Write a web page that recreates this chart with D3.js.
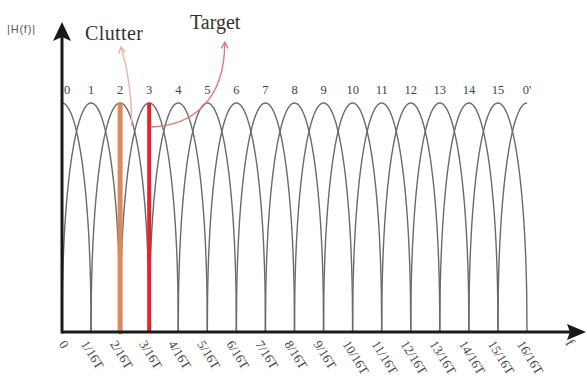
<!DOCTYPE html>
<html>
<head>
<meta charset="utf-8">
<script src="https://cdn.jsdelivr.net/npm/d3@7"></script>
<style>
  html, body { margin: 0; padding: 0; background: #fff; }
  svg { display: block; }
</style>
</head>
<body>
<svg id="chart" width="587" height="390"></svg>
<script>
// Doppler filter bank: 16 bins across one period 1/T, bin 0 repeats as 0'
const binLabels = ["0","1","2","3","4","5","6","7","8","9","10","11","12","13","14","15","0'"];
const binCenters = [0,1,2,3,4,5,6,7,8,9,10,11,12,13,14,15,16];
const tickLabels = ["0","1/16T","2/16T","3/16T","4/16T","5/16T","6/16T","7/16T","8/16T",
                    "9/16T","10/16T","11/16T","12/16T","13/16T","14/16T","15/16T","16/16T"];
// Highlighted returns: bin index and normalised amplitude
const clutter = { name: "Clutter", bin: 2, amp: 1.0 };
const target  = { name: "Target",  bin: 3, amp: 1.0 };

const svg = d3.select("#chart");
const x = d3.scaleLinear().domain([0, 16]).range([62, 527]);
const y = d3.scaleLinear().domain([0, 1]).range([332, 103]);

const serif = "'Liberation Serif', 'DejaVu Serif', serif";

// Filter main lobe: rounded arch spanning the two neighbouring bins
const lobe = u => Math.pow(Math.max(0, 1 - u * u), 0.46);
const uSteps = d3.range(-1, 1.0001, 0.01);
const line = d3.line().x(d => x(d[0])).y(d => y(d[1]));

svg.append("g").selectAll("path")
  .data(binCenters)
  .join("path")
  .attr("d", c => line(uSteps.map(u => [c + u, lobe(u)]).filter(p => p[0] >= 0 && p[0] <= 16)))
  .attr("fill", "none")
  .attr("stroke", "#6a6a6a")
  .attr("stroke-width", 1.4);

// Highlighted clutter / target lines
svg.append("line")
  .attr("x1", x(clutter.bin)).attr("x2", x(clutter.bin))
  .attr("y1", y(0)).attr("y2", y(clutter.amp) + 2)
  .attr("stroke", "#d98b5c").attr("stroke-width", 5).attr("stroke-linecap", "round");
svg.append("line")
  .attr("x1", x(target.bin)).attr("x2", x(target.bin))
  .attr("y1", y(0)).attr("y2", y(target.amp))
  .attr("stroke", "#e3242b").attr("stroke-width", 4);

// Bin numbers above the arches
svg.append("g").selectAll("text")
  .data(binLabels)
  .join("text")
  .attr("x", (d, i) => x(binCenters[i]) + (i === 0 ? 5 : 0))
  .attr("y", 94)
  .attr("text-anchor", "middle")
  .attr("font-family", serif)
  .attr("font-size", 12.5)
  .attr("fill", "#444")
  .text(d => d);

// Frequency axis labels
const xAxis = d3.axisBottom(x)
  .tickValues(binCenters)
  .tickFormat(i => tickLabels[i])
  .tickSize(0);
const gx = svg.append("g").attr("transform", `translate(0,${y(0)})`).call(xAxis);
gx.select(".domain").remove();
gx.selectAll("text")
  .attr("x", 0).attr("y", 0).attr("dy", 0)
  .attr("text-anchor", "start")
  .attr("transform", (d, i) => i === 0 ? "translate(-4,12) rotate(58)" : "translate(-11,12) rotate(58)")
  .attr("font-family", serif)
  .attr("font-size", 13)
  .attr("fill", "#444");

// Axis lines with arrowheads
const axisColor = "#1a1a1a";
svg.append("line")
  .attr("x1", x(0)).attr("x2", 572)
  .attr("y1", y(0)).attr("y2", y(0))
  .attr("stroke", axisColor).attr("stroke-width", 3);
svg.append("path")
  .attr("d", `M586,${y(0)} L567,${y(0) - 8} L570,${y(0)} L567,${y(0) + 8} Z`)
  .attr("fill", axisColor);
svg.append("line")
  .attr("x1", x(0)).attr("x2", x(0))
  .attr("y1", y(0) + 1.5).attr("y2", 36)
  .attr("stroke", axisColor).attr("stroke-width", 3);
svg.append("path")
  .attr("d", `M${x(0)},22 L${x(0) - 9},41 L${x(0)},37 L${x(0) + 9},41 Z`)
  .attr("fill", axisColor);

svg.append("text")
  .attr("x", 7).attr("y", 33)
  .attr("font-family", "'Liberation Sans', 'DejaVu Sans', sans-serif")
  .attr("font-size", 11)
  .attr("letter-spacing", 0.8)
  .attr("fill", "#555")
  .text("|H(f)|");
svg.append("text")
  .attr("transform", "translate(565,343) rotate(58)")
  .attr("font-family", serif)
  .attr("font-size", 14)
  .attr("fill", "#444")
  .text("f");

// Annotation arrows (anchored in data units)
function arrowHead(g, tipX, tipY, angle, color) {
  const len = 7, spread = 0.5;
  const p = d3.path();
  p.moveTo(tipX - len * Math.cos(angle - spread), tipY - len * Math.sin(angle - spread));
  p.lineTo(tipX, tipY);
  p.lineTo(tipX - len * Math.cos(angle + spread), tipY - len * Math.sin(angle + spread));
  g.append("path").attr("d", p.toString()).attr("fill", "none")
    .attr("stroke", color).attr("stroke-width", 1.4);
}

const annot = svg.append("g");
// Clutter arrow
{
  const color = "#ebb3a6";
  const sx = x(2.4), sy = y(0.9), tx = x(2.03), ty = y(1.245);
  const p = d3.path();
  p.moveTo(sx, sy);
  p.bezierCurveTo(sx, y(1.1), tx + 3, y(1.2), tx, ty);
  annot.append("path").attr("d", p.toString()).attr("fill", "none")
    .attr("stroke", color).attr("stroke-width", 1.4);
  arrowHead(annot, tx, ty, -Math.PI / 2 - 0.15, color);
}
// Target arrow
{
  const color = "#db7c7c";
  const sx = x(3.05), sy = y(0.895), tx = x(5.6), ty = y(1.265);
  const p = d3.path();
  p.moveTo(sx, sy);
  p.bezierCurveTo(x(4.4), y(0.9), tx, y(1.0), tx, ty);
  annot.append("path").attr("d", p.toString()).attr("fill", "none")
    .attr("stroke", color).attr("stroke-width", 1.4);
  arrowHead(annot, tx, ty, -Math.PI / 2, color);
}

svg.append("text")
  .attr("x", 85).attr("y", 40)
  .attr("font-family", serif).attr("font-size", 20).attr("fill", "#333")
  .attr("letter-spacing", 0.4)
  .text(clutter.name);
svg.append("text")
  .attr("x", 190).attr("y", 29)
  .attr("font-family", serif).attr("font-size", 20).attr("fill", "#333")
  .text(target.name);
</script>
</body>
</html>
